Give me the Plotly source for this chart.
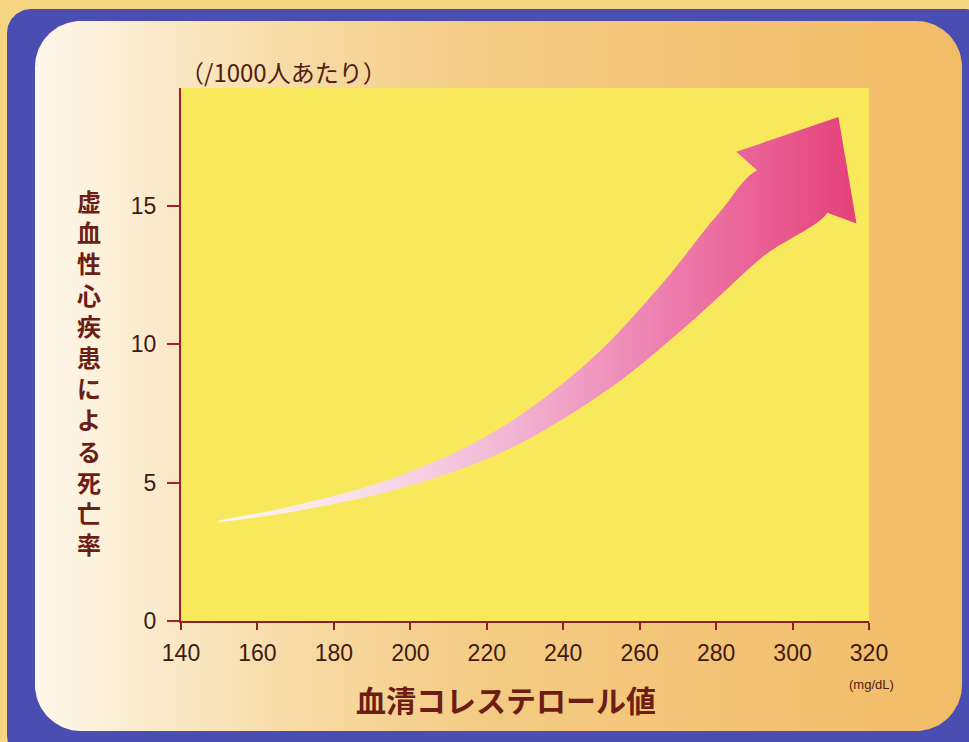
import numpy as np
import plotly.graph_objects as go

# ---------------------------------------------------------------- data
# serum cholesterol (mg/dL) along the trend arrow, last point = arrow tip
cholesterol = [150, 171, 197, 223.5, 249.5, 270.5, 286.5, 301, 312]
# deaths from ischaemic heart disease per 1000 people
death_rate = [3.6, 4.1, 5.0, 6.5, 8.9, 11.6, 13.95, 15.65, 18.2]

x_ticks = [140, 160, 180, 200, 220, 240, 260, 280, 300, 320]
x_tick_labels = ["140", "160", "180", "200", "220", "240", "260", "280", "300", "320"]
y_ticks = [0, 5, 10, 15]
y_tick_labels = ["0", "5", "10", "15"]

y_title = "虚血性心疾患による死亡率"
x_title = "血清コレステロール値"
y_unit = "（/1000人あたり）"
x_unit = "(mg/dL)"

# ---------------------------------------------------------------- geometry
W, H = 969, 742
PL, PR, PT, PB = 181, 869, 88, 621          # plot area in pixels
X_RANGE = [140, 320]
Y_RANGE = [0, 19.25]
SX = (PR - PL) / (X_RANGE[1] - X_RANGE[0])
SY = (PB - PT) / (Y_RANGE[1] - Y_RANGE[0])


def to_px(x, y):
    return PL + (np.asarray(x) - X_RANGE[0]) * SX, PB - (np.asarray(y) - Y_RANGE[0]) * SY


def to_data(px, py):
    return X_RANGE[0] + (np.asarray(px) - PL) / SX, Y_RANGE[0] + (PB - np.asarray(py)) / SY


# body half-width (px) at each body point of the arrow, and head half-width
BODY_HALF = [1.0, 3.0, 6.0, 11.0, 17.0, 24.0, 31.0, 38.0]
HEAD_HALF = 70.0

px, py = to_px(cholesterol, death_rate)
P = np.column_stack([px, py])
body = P[:-1]
tip, base = P[-1], P[-2]

d = (tip - base) / np.linalg.norm(tip - base)
n_head = np.array([d[1], -d[0]])

tang = np.column_stack([np.gradient(body[:, 0]), np.gradient(body[:, 1])])
tang /= np.linalg.norm(tang, axis=1)[:, None]
normals = np.column_stack([tang[:, 1], -tang[:, 0]])
normals[-1] = n_head
w = np.array(BODY_HALF)[:, None]
upper = body + normals * w
lower = body - normals * w
body_poly = np.vstack([upper, lower[::-1]])
bx, by = to_data(body_poly[:, 0], body_poly[:, 1])

head_poly = np.array([
    base + n_head * BODY_HALF[-1] - d * 6,
    base + n_head * HEAD_HALF,
    tip,
    base - n_head * HEAD_HALF,
    base - n_head * BODY_HALF[-1] - d * 6,
])
hx, hy = to_data(head_poly[:, 0], head_poly[:, 1])

arrow_scale = [
    [0.0, "#fdf7f0"],
    [0.22, "#f8dfe9"],
    [0.45, "#f2b6d4"],
    [0.65, "#ee88b6"],
    [0.82, "#ea6498"],
    [1.0, "#e33f77"],
]
arrow_grad = dict(type="horizontal", colorscale=arrow_scale, start=150, stop=318)


def rounded_rect(x0, y0, x1, y1, r, n=30):
    pts = []
    for cx, cy, a0, a1 in [(x1 - r, y0 + r, -90, 0), (x1 - r, y1 - r, 0, 90),
                           (x0 + r, y1 - r, 90, 180), (x0 + r, y0 + r, 180, 270)]:
        a = np.radians(np.linspace(a0, a1, n))
        pts.extend(zip(cx + r * np.cos(a), cy + r * np.sin(a)))
    pts.append(pts[0])
    arr = np.array(pts)
    return arr[:, 0], arr[:, 1]


fig = go.Figure()

# ---------------------------------------------------------------- backdrop (pixel subplot)
ox, oy = rounded_rect(7, 9, 990, 760, 24)
fig.add_trace(go.Scatter(x=ox, y=oy, mode="lines", fill="toself", fillcolor="#4a4db2",
                         line=dict(width=0), hoverinfo="skip", showlegend=False,
                         xaxis="x", yaxis="y"))
ix, iy = rounded_rect(35, 21, 962, 731, 46)
fig.add_trace(go.Scatter(x=ix, y=iy, mode="lines", fill="toself",
                         fillgradient=dict(type="horizontal", start=35, stop=962,
                                           colorscale=[[0.0, "#fef8ec"], [0.1, "#fbedd2"],
                                                       [0.28, "#f7dba4"], [0.5, "#f4ca82"],
                                                       [1.0, "#f2bc67"]]),
                         line=dict(width=0), hoverinfo="skip", showlegend=False,
                         xaxis="x", yaxis="y"))
fig.add_trace(go.Scatter(x=[PL, PR, PR, PL, PL], y=[PT, PT, PB, PB, PT], mode="lines",
                         fill="toself", fillcolor="#f8e85c", line=dict(width=0),
                         hoverinfo="skip", showlegend=False, xaxis="x", yaxis="y"))

# ---------------------------------------------------------------- trend arrow
fig.add_trace(go.Scatter(x=bx, y=by, mode="lines", fill="toself", fillgradient=arrow_grad,
                         line=dict(width=0, shape="spline", smoothing=1.0),
                         hoverinfo="skip", showlegend=False, xaxis="x2", yaxis="y2"))
fig.add_trace(go.Scatter(x=hx, y=hy, mode="lines", fill="toself", fillgradient=arrow_grad,
                         line=dict(width=0), hoverinfo="skip", showlegend=False,
                         xaxis="x2", yaxis="y2"))

AXIS_RED = "#a51d2a"
TICK_FONT = dict(family="Liberation Sans, Arial, sans-serif", size=23, color="#3e1a12")
JP = "Noto Sans CJK JP"
TITLE_COLOR = "#6c1e16"

annotations = [
    dict(x=89, y=372, xref="x", yref="y", text="<b>" + "<br>".join(y_title) + "</b>",
         showarrow=False, font=dict(family=JP, size=24, color=TITLE_COLOR),
         xanchor="center", yanchor="middle", align="center"),
    dict(x=506, y=699, xref="x", yref="y", text=f"<b>{x_title}</b>",
         showarrow=False, font=dict(family=JP, size=30, color=TITLE_COLOR),
         xanchor="center", yanchor="middle"),
    dict(x=283, y=71, xref="x", yref="y", text=y_unit, showarrow=False,
         font=dict(family=JP, size=24, color="#4e2014"),
         xanchor="center", yanchor="middle"),
    dict(x=871, y=684, xref="x", yref="y", text=x_unit, showarrow=False,
         font=dict(family="Liberation Sans, Arial, sans-serif", size=13, color="#4e2014"),
         xanchor="center", yanchor="middle"),
]

fig.update_layout(
    width=W, height=H, autosize=False,
    margin=dict(l=0, r=0, t=0, b=0, pad=0, autoexpand=False),
    paper_bgcolor="#f6d682",
    plot_bgcolor="rgba(0,0,0,0)",
    showlegend=False,
    xaxis=dict(domain=[0, 1], range=[0, W], visible=False, fixedrange=True,
               automargin=False),
    yaxis=dict(domain=[0, 1], range=[H, 0], visible=False, fixedrange=True,
               automargin=False),
    xaxis2=dict(domain=[PL / W, PR / W], anchor="y2", range=X_RANGE,
                tickvals=x_ticks, ticktext=x_tick_labels, ticks="outside", ticklen=7,
                tickwidth=2, tickcolor="#8e1f22", showline=True, linecolor="#8e1f22",
                linewidth=2, showgrid=False, zeroline=False, tickfont=TICK_FONT,
                ticklabelstandoff=3, fixedrange=True, automargin=False),
    yaxis2=dict(domain=[(H - PB) / H, (H - PT) / H], anchor="x2", range=Y_RANGE,
                tickvals=y_ticks, ticktext=y_tick_labels, ticks="outside", ticklen=12,
                tickwidth=2, tickcolor=AXIS_RED, showline=True, linecolor=AXIS_RED,
                linewidth=2, showgrid=False, zeroline=False, tickfont=TICK_FONT,
                ticklabelstandoff=6, fixedrange=True, automargin=False),
    annotations=annotations,
)

fig.write_html("out.html")
